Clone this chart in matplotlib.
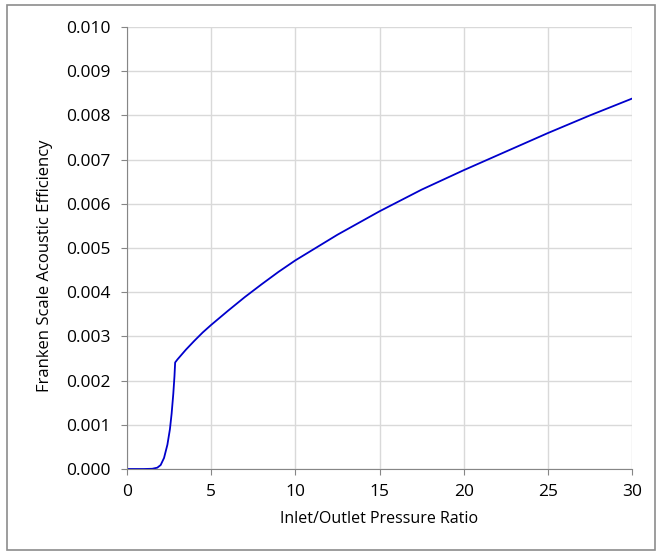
"""Franken scale acoustic efficiency vs pressure ratio"""
import matplotlib
matplotlib.use('Agg')
import matplotlib.pyplot as plt
import matplotlib.patches as mpatches

# Data
pressure_ratio = [0, 1.0, 1.5, 1.8, 2.0, 2.2, 2.4, 2.55, 2.65, 2.75, 2.82, 2.86,
                  3, 3.5, 4, 4.5, 5, 6, 7, 8, 9, 10, 12.5, 15, 17.5, 20,
                  22.5, 25, 27.5, 30]
efficiency = [0, 0, 0.000005, 0.00003, 0.00009, 0.00025, 0.00055, 0.0009, 0.00125,
              0.0017, 0.0021, 0.00241,
              0.00248, 0.00270, 0.00290, 0.00309, 0.00326, 0.00358, 0.00389,
              0.00418, 0.00446, 0.00472, 0.00530, 0.00583,
              0.00632, 0.00676, 0.00718, 0.00760, 0.00800, 0.00838]
x_ticks = [0, 5, 10, 15, 20, 25, 30]
y_ticks = [0.000, 0.001, 0.002, 0.003, 0.004, 0.005, 0.006, 0.007, 0.008, 0.009, 0.010]

plt.rcParams['font.family'] = ['Open Sans', 'DejaVu Sans']

W, H = 657, 556
fig = plt.figure(figsize=(W / 100, H / 100), dpi=100)
ax = fig.add_axes([127 / W, 1 - 469 / H, (632 - 127) / W, (469 - 27) / H])

ax.plot(pressure_ratio, efficiency, color='#0000cc', linewidth=1.3)

ax.set_xlim(0, 30)
ax.set_ylim(0, 0.010)
ax.set_xticks(x_ticks)
ax.set_yticks(y_ticks)
ax.set_yticklabels(['%.3f' % v for v in y_ticks])
ax.grid(True, color='#d9d9d9', linewidth=1)
ax.set_axisbelow(True)

for side in ['top', 'right']:
    ax.spines[side].set_visible(False)
for side in ['left', 'bottom']:
    ax.spines[side].set_color('#868686')
ax.tick_params(direction='out', length=4, color='#868686', labelsize=12.5,
               labelcolor='#000000')
ax.tick_params(axis='x', pad=7)
ax.tick_params(axis='y', pad=8)

ax.set_xlabel('Inlet/Outlet Pressure Ratio', fontsize=11.5, labelpad=8)
ax.set_ylabel('Franken Scale Acoustic Efficiency', fontsize=12)
ax.yaxis.set_label_coords(-0.146, 0.46)

# Outer chart border
fig.patches.append(mpatches.Rectangle(
    (7 / W, 1 - 550 / H), (655 - 7) / W, (550 - 5) / H,
    transform=fig.transFigure, fill=False, edgecolor='#8c8c8c', linewidth=1.2))

fig.savefig('out.png', dpi=100)
